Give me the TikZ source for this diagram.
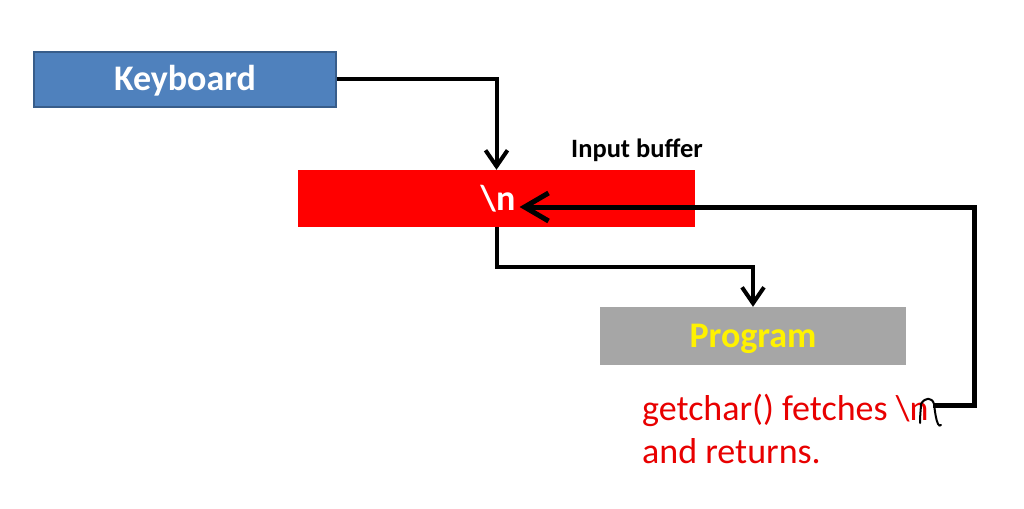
\documentclass[tikz,border=0pt]{standalone}
\usepackage{fontspec}
\setmainfont{Carlito}
\usetikzlibrary{arrows.meta}
\definecolor{kbfill}{RGB}{79,129,189}
\definecolor{kbdraw}{RGB}{56,93,138}
\definecolor{progfill}{RGB}{166,166,166}
\definecolor{txtred}{RGB}{232,0,0}
\tikzset{
  box/.style={inner sep=0pt, text height=23pt, text depth=0pt, font=\bfseries\fontsize{36}{40}\selectfont},
  flow/.style={draw=black, line width=4pt, -{Straight Barb[length=16pt,width=22pt]}},
  back/.style={draw=black, line width=5pt, -{Straight Barb[length=24pt,width=28pt]}},
  redtxt/.style={inner sep=0pt, anchor=base west, text=txtred, font=\fontsize{36}{43}\selectfont}
}
\begin{document}
\begin{tikzpicture}[x=1pt,y=-1pt]
\useasboundingbox[fill=white] (0,0) rectangle (1024,508);
\node[box, fill=kbfill, draw=kbdraw, line width=1.5pt, minimum width=302pt, minimum height=55pt, text=white] (kb) at (185,79.5) {Keyboard};
\node[box, fill=red, minimum width=397pt, minimum height=57pt] (buf) at (496.5,198.5) {};
\node[box, text=white, inner xsep=4pt] (nl) at (498,199) {\textbackslash n};
\node[inner sep=0pt, anchor=base, font=\bfseries\fontsize{26.5}{30}\selectfont] (ib) at (637,157) {Input buffer};
\node[box, fill=progfill, minimum width=306pt, minimum height=58pt, text=yellow] (prog) at (753,336) {Program};
\node[redtxt] (gc1) at (642,420) {getchar() fetches \textbackslash n};
\node[redtxt] (gc2) at (642,463) {and returns.};
\coordinate (hn) at (933,405);
\coordinate (rc) at (974,207);
\draw[flow] (kb.east) -| (buf.north);
\draw[flow] (buf.south) -- ++(0,40) -| (prog.north);
\draw[back] (hn) -| (rc) -- (nl.east |- rc);
\draw[black, line width=2pt, line cap=round, line join=round]
  (920,423) .. controls (920,414) and (921,408) .. (921,404)
  .. controls (925,397) and (932,397) .. (934,404)
  .. controls (935,412) and (936,420) .. (938,424)
  .. controls (939,426) and (940,426) .. (941,425);
\end{tikzpicture}
\end{document}
